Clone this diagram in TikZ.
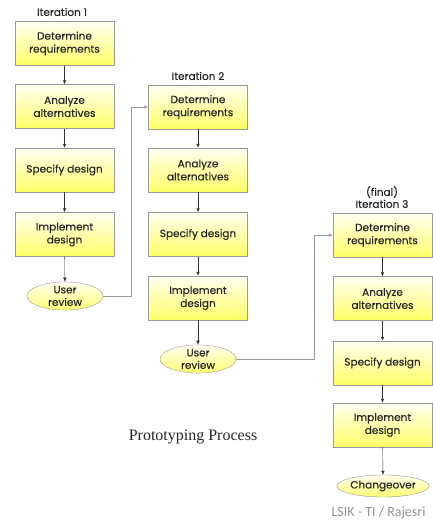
\documentclass[tikz,border=0pt]{standalone}
\usepackage{fontspec}
\setmainfont{Liberation Serif}
\newfontfamily\boxfont[FakeBold=0.35]{Poppins}
\newfontfamily\notefont{Carlito}
\usetikzlibrary{arrows.meta,shapes.geometric}

\tikzset{
  stepbox/.style={draw=gray!80, top color=yellow!5, bottom color=yellow!60,
    minimum width=99pt, minimum height=44pt, inner sep=1pt, align=center,
    text=black!85, font=\boxfont\fontsize{10.5}{13}\selectfont},
  review/.style={ellipse, draw=gray!80, top color=yellow!6, bottom color=yellow!55,
    minimum width=76pt, minimum height=28pt, inner sep=0pt, align=center,
    text=black!85, font=\boxfont\fontsize{10.5}{12.5}\selectfont},
  itlabel/.style={align=center, text=black!85, font=\boxfont\fontsize{10.5}{12}\selectfont},
  flow/.style={-{Latex[length=4pt,width=3.5pt]}, black!80},
  loop/.style={flow, gray!80}
}

\begin{document}
\begin{tikzpicture}[x=1pt,y=-1pt]
\useasboundingbox (0,0) rectangle (433,528);

% iteration 1
\node[itlabel] (it1) at (62,12) {Iteration 1};
\node[stepbox] (b11) at (64.5,43.5) {Determine\\requirements};
\node[stepbox] (b12) at (64.5,106.5) {Analyze\\alternatives};
\node[stepbox] (b13) at (64.5,170) {Specify design};
\node[stepbox] (b14) at (64.5,234.5) {Implement\\design};
\node[review] (e1) at (65,296) {User\\review};

\draw[flow] (b11) -- (b12);
\draw[flow] (b12) -- (b13);
\draw[flow] (b13) -- (b14);
\draw[flow] (b14) -- (e1);

% iteration 2
\node[itlabel] (it2) at (198,76) {Iteration 2};
\node[stepbox] (b21) at (198,107) {Determine\\requirements};
\node[stepbox] (b22) at (198,170) {Analyze\\alternatives};
\node[stepbox] (b23) at (198,234.5) {Specify design};
\node[stepbox] (b24) at (198,298) {Implement\\design};
\node[review] (e2) at (198,359) {User\\review};

\draw[flow] (b21) -- (b22);
\draw[flow] (b22) -- (b23);
\draw[flow] (b23) -- (b24);
\draw[flow] (b24) -- (e2);

% iteration 3
\node[itlabel] (it3) at (382,197) {(final)\\Iteration 3};
\node[stepbox] (b31) at (382.5,235) {Determine\\requirements};
\node[stepbox] (b32) at (382.5,298.5) {Analyze\\alternatives};
\node[stepbox] (b33) at (382.5,363) {Specify design};
\node[stepbox] (b34) at (382.5,425) {Implement\\design};
\node[review, minimum width=77pt, minimum height=22pt] (e3) at (383,486) {Changeover};

\draw[flow] (b31) -- (b32);
\draw[flow] (b32) -- (b33);
\draw[flow] (b33) -- (b34);
\draw[flow] (b34) -- (e3);

% feedback into next iteration
\coordinate (k1) at (131,107);
\coordinate (k2) at (314,235);
\draw[loop] (e1.east) -| (k1) -- (b21.west);
\draw[loop] (e2.east) -| (k2) -- (b31.west);

\node[font=\fontsize{16}{19}\selectfont, text=black!85] (cap) at (193,437) {Prototyping Process};
\node[anchor=west, text=gray!85, font=\notefont\fontsize{14}{16}\selectfont] (src) at (328,513) {LSIK - TI / Rajesri};
\end{tikzpicture}
\end{document}
